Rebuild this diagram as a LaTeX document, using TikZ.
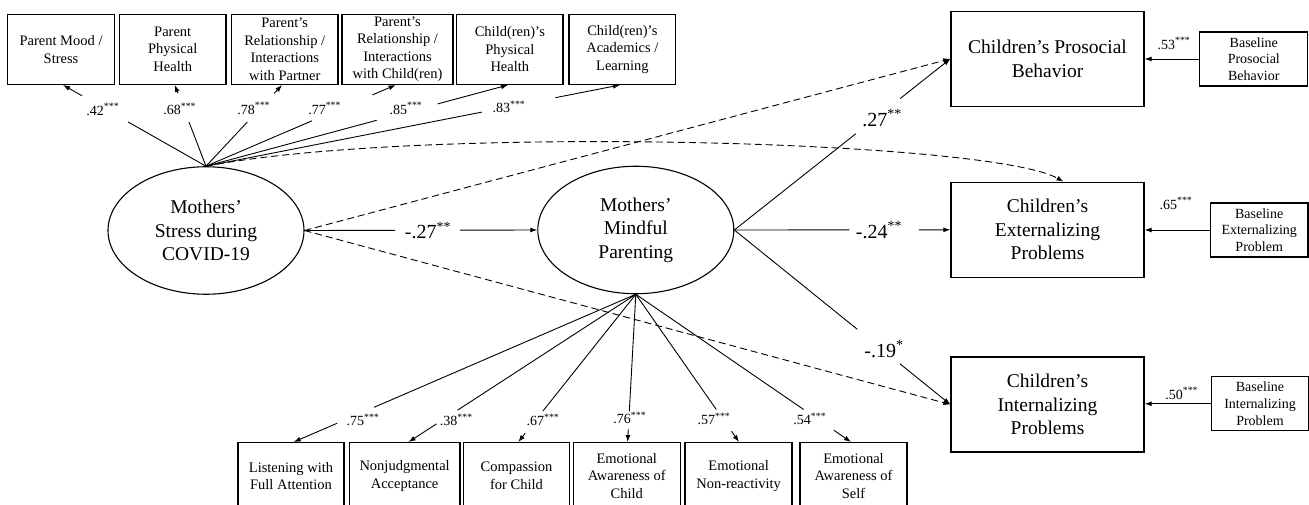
\documentclass[tikz,border=0pt]{standalone}
\usepackage{fontspec}
\setmainfont{Liberation Serif}
\usetikzlibrary{arrows.meta,shapes.geometric,calc}
\newcommand\gapline[4]{%
  \draw[conn] (#1) -- ($(#1)!#3!(#2)$);
  \draw[conn,arr] ($(#1)!#4!(#2)$) -- (#2);}
\begin{document}
\begin{tikzpicture}[x=1pt,y=-1pt,
  conn/.style={line width=0.9pt},
  arr/.style={-{Latex[length=7pt,width=5pt]}},
  dsh/.style={line width=0.9pt, dash pattern=on 7pt off 4pt},
  tbox/.style={draw, line width=1.4pt, inner sep=0pt, align=center, minimum height=70pt, font=\fontsize{14.5}{17.6}\selectfont},
  bbox/.style={draw, line width=1.3pt, inner sep=0pt, align=center, minimum width=193pt, minimum height=95pt, font=\fontsize{19.5}{23.5}\selectfont},
  basebox/.style={draw, line width=1.3pt, inner sep=0pt, align=center, minimum height=54pt, font=\fontsize{14}{16.7}\selectfont},
  mbox/.style={draw, line width=1.4pt, inner sep=0pt, align=center, minimum height=66.6pt, font=\fontsize{14.5}{17.6}\selectfont},
  lat/.style={draw, ellipse, line width=1.1pt, inner sep=0pt, minimum width=196pt, minimum height=127.5pt, align=center, font=\fontsize{19.5}{23.5}\selectfont},
  lbl/.style={inner sep=0pt, font=\fontsize{14}{16}\selectfont},
  blbl/.style={inner sep=0pt, font=\fontsize{20}{24}\selectfont}]
\useasboundingbox (0,0) rectangle (1309,505);
\clip (0,0) rectangle (1309,505);

% top indicator boxes
\node[tbox, minimum width=106.9pt] (p1) at (61.05,49.3) {Parent Mood /\\Stress};
\node[tbox, minimum width=106.5pt] (p2) at (172.75,49.3) {Parent\\Physical\\Health};
\node[tbox, minimum width=106.5pt] (p3) at (284.75,49.3) {Parent’s\\Relationship /\\Interactions\\with Partner};
\node[tbox, minimum width=111pt] (p4) at (397.5,49.3) {Parent’s\\Relationship /\\Interactions\\with Child(ren)};
\node[tbox, minimum width=106.3pt] (p5) at (509.85,49.3) {Child(ren)’s\\Physical\\Health};
\node[tbox, minimum width=106.7pt] (p6) at (622.35,49.3) {Child(ren)’s\\Academics /\\Learning};

% latent variables
\node[lat] (stress) at (206,230.5) {Mothers’\\Stress during\\COVID-19};
\node[lat] (mind) at (635.8,230) {Mothers’\\Mindful\\Parenting};

% outcomes
\node[bbox] (pro) at (1047.5,58.8) {Children’s Prosocial\\Behavior};
\node[bbox] (ext) at (1047.5,229.8) {Children’s\\Externalizing\\Problems};
\node[bbox] (int) at (1047.5,404.5) {Children’s\\Internalizing\\Problems};

% baselines
\node[basebox, minimum width=108pt] (bpro) at (1253.8,59) {Baseline\\Prosocial\\Behavior};
\node[basebox, minimum width=97.3pt] (bext) at (1259.2,230) {Baseline\\Externalizing\\Problem};
\node[basebox, minimum width=96.6pt] (bint) at (1260,403.8) {Baseline\\Internalizing\\Problem};

% bottom indicator boxes
\node[mbox, minimum width=106pt] (m1) at (291,476) {Listening with\\Full Attention};
\node[mbox, minimum width=110.7pt] (m2) at (404.6,476) {Nonjudgmental\\Acceptance};
\node[mbox, minimum width=105.5pt] (m3) at (516.5,476) {Compassion\\for Child};
\node[mbox, minimum width=107pt] (m4) at (626.8,476) {Emotional\\Awareness of\\Child};
\node[mbox, minimum width=107pt] (m5) at (738.6,476) {Emotional\\Non-reactivity};
\node[mbox, minimum width=107pt] (m6) at (853.5,476) {Emotional\\Awareness of\\Self};

% anchor points
\coordinate (C1) at (stress.north);
\coordinate (C2) at (mind.south);
\coordinate (t1) at ($(p1.south)+(2,0)$);
\coordinate (t2) at ($(p2.south)+(2,0)$);
\coordinate (t3) at ($(p3.south)+(-2.75,0)$);
\coordinate (t4) at ($(p4.south)+(-1.9,0)$);
\coordinate (t5) at ($(p5.south)+(-1.85,0)$);
\coordinate (t6) at ($(p6.south)+(-2.35,0)$);
\coordinate (u1) at ($(m1.north)+(2.7,0)$);
\coordinate (u2) at ($(m2.north)+(4,0)$);
\coordinate (u3) at ($(m3.north)+(1.8,0)$);
\coordinate (u4) at ($(m4.north)+(0.8,0)$);
\coordinate (u5) at ($(m5.north)+(0.4,0)$);
\coordinate (u6) at ($(m6.north)+(-2.5,0)$);
\coordinate (extT) at ($(ext.north)+(16,0)$);

% stress loadings
\gapline{C1}{t1}{0.545}{0.867}
\gapline{C1}{t2}{0.543}{0.897}
\gapline{C1}{t3}{0.543}{0.897}
\gapline{C1}{t4}{0.559}{0.878}
\gapline{C1}{t5}{0.565}{0.767}
\gapline{C1}{t6}{0.666}{0.844}
\node[lbl] (l42) at (102.8,109.3) {.42\textsuperscript{***}};
\node[lbl] (l68) at (179.7,109) {.68\textsuperscript{***}};
\node[lbl] (l78) at (253.7,108.5) {.78\textsuperscript{***}};
\node[lbl] (l77) at (324.6,108.5) {.77\textsuperscript{***}};
\node[lbl] (l85) at (406,108.3) {.85\textsuperscript{***}};
\node[lbl] (l83) at (509,106.7) {.83\textsuperscript{***}};

% mindful loadings
\gapline{C2}{u1}{0.765}{0.873}
\gapline{C2}{u2}{0.785}{0.877}
\gapline{C2}{u3}{0.79}{0.94}
\gapline{C2}{u4}{0.792}{0.915}
\gapline{C2}{u5}{0.78}{0.927}
\gapline{C2}{u6}{0.78}{0.92}
\node[lbl] (l75) at (363,420) {.75\textsuperscript{***}};
\node[lbl] (l38) at (456.3,420) {.38\textsuperscript{***}};
\node[lbl] (l67) at (543,420) {.67\textsuperscript{***}};
\node[lbl] (l76) at (629.8,418) {.76\textsuperscript{***}};
\node[lbl] (l57) at (714,419) {.57\textsuperscript{***}};
\node[lbl] (l54) at (809.8,419) {.54\textsuperscript{***}};

% structural paths
\gapline{stress.east}{mind.west}{0.389}{0.667}
\node[blbl] (l27a) at (428,230.5) {-.27\textsuperscript{**}};
\draw[dsh,arr] (stress.east) -- (pro.west);
\draw[dsh,arr] (stress.east) -- (int.west);
\draw[dsh,arr] (C1) .. controls (420,125) and (990,140) .. (extT);

\gapline{mind.east}{pro.west}{0.562}{0.767}
\gapline{mind.east}{ext.west}{0.532}{0.854}
\gapline{mind.east}{int.west}{0.569}{0.767}
\node[blbl] (l27b) at (882,118) {.27\textsuperscript{**}};
\node[blbl] (l24) at (879,230) {-.24\textsuperscript{**}};
\node[blbl] (l19) at (884,349) {-.19\textsuperscript{*}};

% baseline paths
\draw[conn,arr] (bpro.west) -- (bpro.west -| pro.east);
\draw[conn,arr] (bext.west) -- (bext.west -| ext.east);
\draw[conn,arr] (bint.west) -- (bint.west -| int.east);
\node[lbl] (l53) at (1174,43.3) {.53\textsuperscript{***}};
\node[lbl] (l65) at (1176,203.3) {.65\textsuperscript{***}};
\node[lbl] (l50) at (1181.7,393.3) {.50\textsuperscript{***}};
\end{tikzpicture}
\end{document}
